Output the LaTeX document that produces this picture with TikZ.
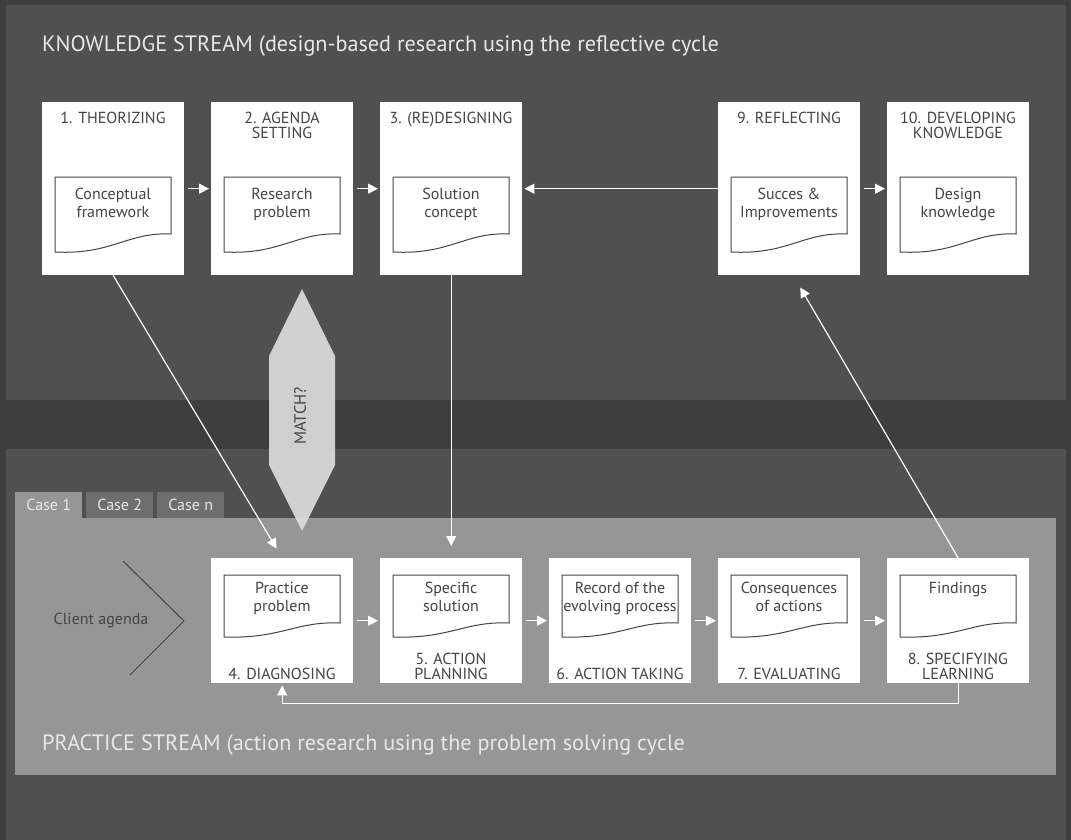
\documentclass[tikz,border=0pt]{standalone}
\usepackage{fontspec}
\setmainfont{PT Sans}
\usetikzlibrary{arrows.meta}

\definecolor{bgdark}{HTML}{3E3E3E}
\definecolor{bgpanel}{HTML}{505050}
\definecolor{casepanel}{HTML}{969696}
\definecolor{casetab}{HTML}{6E6E6E}
\definecolor{inkgray}{HTML}{444444}
\definecolor{palegray}{HTML}{E8E8E8}
\definecolor{matchgray}{HTML}{DCDCDC}

\tikzset{
  stepbox/.style={fill=white, draw=none, anchor=north west, inner sep=0pt, minimum width=142pt},
  boxlabel/.style={inner sep=0pt, align=center, text=inkgray, font=\fontsize{16}{15}\selectfont},
  doctext/.style={inner sep=0pt, align=center, text=inkgray, anchor=north, font=\fontsize{16}{18}\selectfont},
  docline/.style={draw=inkgray, line width=1pt},
  flowarrow/.style={draw=white, line width=1.2pt, -{Triangle[length=10pt,width=10pt]}},
  streamtitle/.style={anchor=base west, inner sep=0pt, text=palegray, font=\fontsize{22.2}{26}\selectfont},
  casetabnode/.style={anchor=north west, inner sep=0pt, minimum width=67pt, minimum height=26pt, text=palegray, font=\fontsize{16}{18}\selectfont},
  topdoc/.pic={\draw[docline, fill=white] (13,-75) -- (129,-75) -- (129,-132) .. controls (85,-130) and (70,-153) .. (13,-150) -- cycle;},
  lowdoc/.pic={\draw[docline, fill=white] (13,-17) -- (129,-17) -- (129,-65) .. controls (85,-63) and (70,-81) .. (13,-79) -- cycle;},
}

\begin{document}
\begin{tikzpicture}[x=1pt,y=1pt,yscale=-1,xscale=1]
\useasboundingbox (0,0) rectangle (1071,840);

%Shape: Rectangle [backdrop and stream panels]
\fill[bgdark] (0,0) rectangle (1071,840);
\fill[bgpanel] (6,5) rectangle (1066,400);
\fill[bgpanel] (6,449) rectangle (1066,840);
\fill[casepanel] (15,518) rectangle (1056,775);

%Case tabs
\node[casetabnode, fill=casepanel] (case1) at (15,492) {Case 1};
\node[casetabnode, fill=casetab] (case2) at (86,492) {Case 2};
\node[casetabnode, fill=casetab] (casen) at (157,492) {Case n};

% Text Node
\node[streamtitle] (knowtitle) at (42,52) {KNOWLEDGE STREAM (design-based research using the reflective cycle};
% Text Node
\node[streamtitle] (practitle) at (42,750) {PRACTICE STREAM (action research using the problem solving cycle};

%Knowledge stream steps
\node[stepbox, minimum height=173pt] (theor) at (42,102) {};
\node[stepbox, minimum height=173pt] (agenda) at (211,102) {};
\node[stepbox, minimum height=173pt] (design) at (380,102) {};
\node[stepbox, minimum height=173pt] (reflect) at (718,102) {};
\node[stepbox, minimum height=173pt] (develop) at (887,102) {};
\pic at (42,102) {topdoc};
\pic at (211,102) {topdoc};
\pic at (380,102) {topdoc};
\pic at (718,102) {topdoc};
\pic at (887,102) {topdoc};

% Text Node
\node[boxlabel, anchor=north] (theorlbl) at (113,112) {1. THEORIZING};
\node[boxlabel, anchor=north] (agendalbl) at (282,112) {2. AGENDA\\SETTING};
\node[boxlabel, anchor=north] (designlbl) at (451,112) {3. (RE)DESIGNING};
\node[boxlabel, anchor=north] (reflectlbl) at (789,112) {9. REFLECTING};
\node[boxlabel, anchor=north] (developlbl) at (958,112) {10. DEVELOPING\\KNOWLEDGE};
\node[doctext] (framework) at (113,188) {Conceptual\\framework};
\node[doctext] (researchprob) at (282,188) {Research\\problem};
\node[doctext] (concept) at (451,188) {Solution\\concept};
\node[doctext] (improve) at (789,188) {Succes \&\\Improvements};
\node[doctext] (designknow) at (958,188) {Design\\knowledge};

%Practice stream steps
\node[stepbox, minimum height=125pt] (diagnose) at (211,558) {};
\node[stepbox, minimum height=125pt] (plan) at (380,558) {};
\node[stepbox, minimum height=125pt] (take) at (549,558) {};
\node[stepbox, minimum height=125pt] (evaluate) at (718,558) {};
\node[stepbox, minimum height=125pt] (specify) at (887,558) {};
\pic at (211,558) {lowdoc};
\pic at (380,558) {lowdoc};
\pic at (549,558) {lowdoc};
\pic at (718,558) {lowdoc};
\pic at (887,558) {lowdoc};

% Text Node
\node[boxlabel, anchor=south] (diagnoselbl) at (282,680) {4. DIAGNOSING};
\node[boxlabel, anchor=south] (planlbl) at (451,680) {5. ACTION\\PLANNING};
\node[boxlabel, anchor=south] (takelbl) at (620,680) {6. ACTION TAKING};
\node[boxlabel, anchor=south] (evaluatelbl) at (789,680) {7. EVALUATING};
\node[boxlabel, anchor=south] (specifylbl) at (958,680) {8. SPECIFYING\\LEARNING};
\node[doctext] (practiceprob) at (282,582) {Practice\\problem};
\node[doctext] (specific) at (451,582) {Specific\\solution};
\node[doctext] (record) at (620,582) {Record of the\\evolving process};
\node[doctext] (consequence) at (789,582) {Consequences\\of actions};
\node[doctext] (findings) at (958,582) {Findings};

%Client agenda chevron
\node[text=inkgray, inner sep=0pt, font=\fontsize{16}{18}\selectfont] (client) at (101,620) {Client agenda};
\draw[inkgray, line width=1pt] (123,561) -- (184,621) -- (130,675);

%Match shape
\fill[matchgray, opacity=0.92] (302,289) -- (335,356) -- (335,465) -- (302,531) -- (269,465) -- (269,356) -- cycle;
\node[rotate=90, text=inkgray, inner sep=0pt, font=\fontsize{16.5}{18}\selectfont] (match) at (300,416) {MATCH?};

%Straight Lines [arrows]
\draw[flowarrow, shorten <=4pt, shorten >=2pt] (theor) -- (agenda);
\draw[flowarrow, shorten <=4pt, shorten >=2pt] (agenda) -- (design);
\draw[flowarrow, shorten >=2pt] (reflect) -- (design);
\draw[flowarrow, shorten <=4pt, shorten >=2pt] (reflect) -- (develop);
\draw[flowarrow, shorten <=4pt, shorten >=2pt] (diagnose) -- (plan);
\draw[flowarrow, shorten <=4pt, shorten >=2pt] (plan) -- (take);
\draw[flowarrow, shorten <=4pt, shorten >=2pt] (take) -- (evaluate);
\draw[flowarrow, shorten <=4pt, shorten >=2pt] (evaluate) -- (specify);
\draw[flowarrow, shorten >=11pt] (theor.south) -- (diagnose.north);
\draw[flowarrow, shorten >=12pt] (design.south) -- (plan.north);
\draw[flowarrow, shorten >=14pt] (specify.north) -- ([xshift=4pt]reflect.south);
\draw[flowarrow, shorten >=2pt] (specify.south) -- ++(0,20) -| (diagnose.south);

\end{tikzpicture}
\end{document}
